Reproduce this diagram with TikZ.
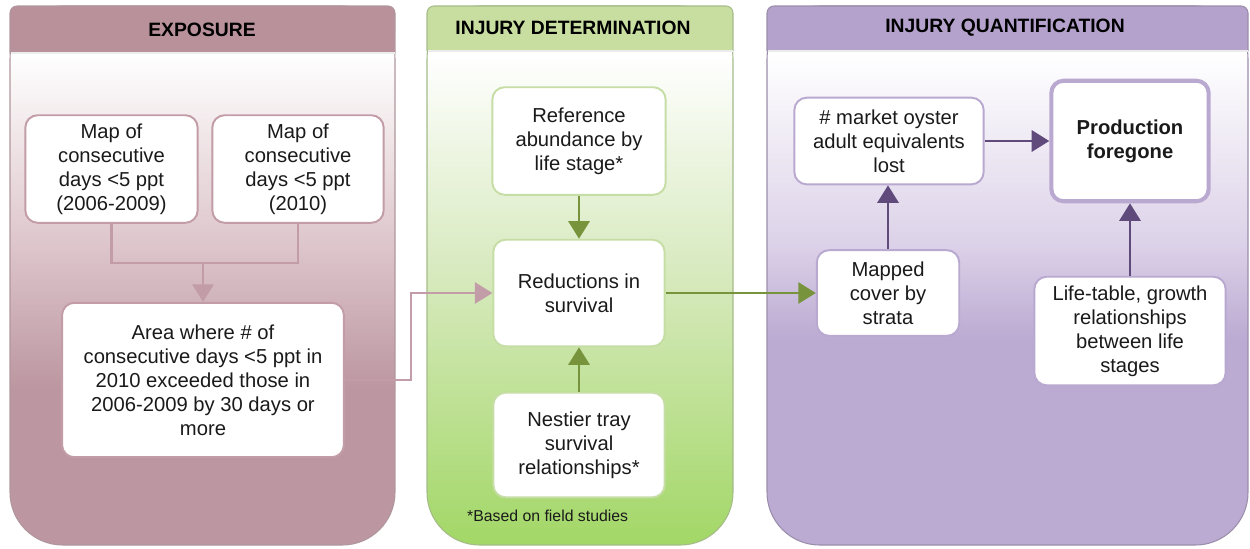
\documentclass[tikz,border=0pt]{standalone}
\usepackage{fontspec}
\setmainfont{Liberation Sans}
\usetikzlibrary{arrows.meta}
\definecolor{expH}{HTML}{B9919B}
\definecolor{expB}{HTML}{BC96A0}
\definecolor{expM}{HTML}{DCC4CA}
\definecolor{expL}{HTML}{C29CA6}
\definecolor{expE}{HTML}{8E6A73}
\definecolor{detH}{HTML}{C8DEA0}
\definecolor{detB}{HTML}{A2D766}
\definecolor{detM}{HTML}{D6E9BC}
\definecolor{detL}{HTML}{C6DEA6}
\definecolor{detA}{HTML}{77933C}
\definecolor{detE}{HTML}{7E9E56}
\definecolor{quaH}{HTML}{B4A2CC}
\definecolor{quaB}{HTML}{BBAAD2}
\definecolor{quaM}{HTML}{DDD3E9}
\definecolor{quaL}{HTML}{B9A8D0}
\definecolor{quaA}{HTML}{604A7B}
\definecolor{quaE}{HTML}{6E5E86}
\definecolor{txt}{HTML}{1A1A1A}
\def\pxu{0.5669pt}
\tikzset{
  box/.style={draw, fill=white, rounded corners=7pt, line width=1.1pt, align=center,
    inner sep=0pt, text=txt},
  ebox/.style={box, draw=expL},
  gbox/.style={box, draw=detL},
  pbox/.style={box, draw=quaL},
  hdr/.style={font=\fontsize{11}{13}\selectfont\bfseries, text=black},
  conn/.style={line width=1.6pt},
  arr/.style={line width=1.6pt, -{Triangle[width=12pt,length=10pt]}},
  earr/.style={arr, draw=expL},
  garr/.style={arr, draw=detA},
  parr/.style={arr, draw=quaA},
}
\begin{document}
\begin{tikzpicture}[x=0.02cm, y=-0.02cm, font=\fontsize{11.5}{13.6}\selectfont]
\useasboundingbox (0,0) rectangle (1250,548);

% ---------------- panel 1: exposure
\begin{scope}
  \clip[rounded corners=30pt] (10,6) rectangle (395,545);
  \shade[top color=white, bottom color=expM] (10,53) rectangle (395,250);
  \shade[top color=expM, bottom color=expB] (10,250) rectangle (395,390);
  \fill[expB] (10,390) rectangle (395,546);
\end{scope}
\draw[expE!70, line width=0.6pt, rounded corners=30pt] (10,6) rectangle (395,545);
\fill[expH, rounded corners=4pt] (10,6) rectangle (395,40);
\fill[expH] (10,25) rectangle (395,53);
\draw[expE!70, line width=0.6pt, rounded corners=4pt] (10,53) -- (10,6) -- (395,6) -- (395,53);
\draw[white!85!gray, line width=1.2pt] (10.5,53) -- (394.5,53);
\node[hdr] (h1) at (202,30) {EXPOSURE};

% ---------------- panel 2: injury determination
\begin{scope}
  \clip[rounded corners=30pt] (427,6) rectangle (733,545);
  \shade[top color=white, bottom color=detM] (427,53) rectangle (733,280);
  \shade[top color=detM, bottom color=detB] (427,280) rectangle (733,546);
\end{scope}
\draw[detE!70, line width=0.6pt, rounded corners=30pt] (427,6) rectangle (733,545);
\fill[detH, rounded corners=4pt] (427,6) rectangle (733,40);
\fill[detH] (427,25) rectangle (733,51);
\draw[detE!70, line width=0.6pt, rounded corners=4pt] (427,51) -- (427,6) -- (733,6) -- (733,51);
\draw[white!85!gray, line width=1.2pt] (427.5,51) -- (732.5,51);
\node[hdr] (h2) at (573,28) {INJURY DETERMINATION};

% ---------------- panel 3: injury quantification
\begin{scope}
  \clip[rounded corners=30pt] (767,6) rectangle (1248,545);
  \shade[top color=white, bottom color=quaM] (767,53) rectangle (1248,240);
  \shade[top color=quaM, bottom color=quaB] (767,240) rectangle (1248,340);
  \fill[quaB] (767,340) rectangle (1248,546);
\end{scope}
\draw[quaE!70, line width=0.6pt, rounded corners=30pt] (767,6) rectangle (1248,545);
\fill[quaH, rounded corners=4pt] (767,6) rectangle (1248,40);
\fill[quaH] (767,25) rectangle (1248,51);
\draw[quaE!70, line width=0.6pt, rounded corners=4pt] (767,51) -- (767,6) -- (1248,6) -- (1248,51);
\draw[white!85!gray, line width=1.2pt] (767.5,51) -- (1247.5,51);
\node[hdr] (h3) at (1005,28) {INJURY QUANTIFICATION};

% ---------------- nodes
\node[ebox, minimum width=173*\pxu, minimum height=108*\pxu] (A) at (111.5,169)
  {Map of\\consecutive\\days <5 ppt\\(2006-2009)};
\node[ebox, minimum width=172*\pxu, minimum height=108*\pxu] (B) at (298,169)
  {Map of\\consecutive\\days <5 ppt\\(2010)};
\node[ebox, minimum width=283*\pxu, minimum height=155*\pxu] (C) at (203,380)
  {Area where \# of\\consecutive days <5 ppt in\\2010 exceeded those in\\2006-2009 by 30 days or\\more};

\node[gbox, minimum width=174*\pxu, minimum height=108*\pxu] (Ref) at (579,141)
  {Reference\\abundance by\\life stage*};
\node[gbox, minimum width=172*\pxu, minimum height=107*\pxu] (Red) at (579,293)
  {Reductions in\\survival};
\node[gbox, minimum width=172*\pxu, minimum height=105*\pxu] (Nes) at (579,445)
  {Nestier tray\\survival\\relationships*};
\node[anchor=west, font=\fontsize{9}{11}\selectfont, text=txt] (fn) at (461,516)
  {*Based on field studies};

\node[pbox, minimum width=190*\pxu, minimum height=87*\pxu] (Mkt) at (889,141)
  {\# market oyster\\adult equivalents\\lost};
\node[pbox, line width=2.3pt, minimum width=158*\pxu, minimum height=121*\pxu,
  font=\fontsize{11.5}{13.6}\selectfont\bfseries] (Prod) at (1130,141)
  {Production\\foregone};
\node[pbox, minimum width=143*\pxu, minimum height=86*\pxu] (Map) at (888,293)
  {Mapped\\cover by\\strata};
\node[pbox, minimum width=192*\pxu, minimum height=109*\pxu] (Life) at (1130,331)
  {Life-table, growth\\relationships\\between life\\stages};

% ---------------- connectors
\coordinate (j) at (203,263);
\coordinate (k) at (411,380);
\draw[conn, draw=expL] (A.south) -- (A.south |- j) -- (B.south |- j) -- (B.south);
\draw[earr] (j) -- (C.north);
\draw[earr] (C.east) -- (k) |- (Red.west);

\draw[garr] (Ref.south) -- (Red.north);
\draw[garr] (Nes.north) -- (Red.south);
\draw[garr] (Red.east) -- (Map.west);

\draw[parr] (Map.north) -- (Map.north |- Mkt.south);
\draw[parr] (Mkt.east) -- (Prod.west);
\draw[parr] (Life.north) -- (Prod.south);
\end{tikzpicture}
\end{document}
